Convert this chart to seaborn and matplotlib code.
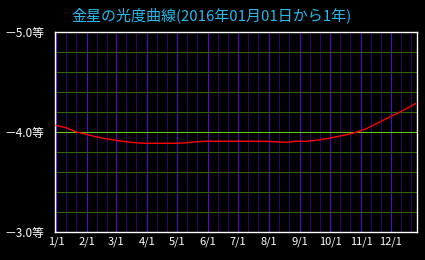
import numpy as np
import pandas as pd
import matplotlib
matplotlib.use("Agg")
import matplotlib.pyplot as plt
import matplotlib.ticker as mticker
import seaborn as sns

# ---- data ----
days = [0, 10, 20, 30, 40, 50, 60, 70, 80, 90, 100, 110, 120, 130, 140, 150,
        160, 170, 180, 190, 200, 210, 220, 230, 240, 250, 260, 270, 280, 290,
        300, 310, 320, 330, 340, 350, 360]
mags = [-4.07, -4.045, -4.005, -3.98, -3.955, -3.935, -3.92, -3.905, -3.895, -3.89,
        -3.89, -3.89, -3.89, -3.895, -3.905, -3.91, -3.91, -3.91, -3.91, -3.91,
        -3.91, -3.91, -3.905, -3.90, -3.91, -3.91, -3.92, -3.935, -3.955, -3.975,
        -4.00, -4.035, -4.085, -4.135, -4.185, -4.235, -4.29]
month_labels = ["1/1", "2/1", "3/1", "4/1", "5/1", "6/1", "7/1", "8/1", "9/1",
                "10/1", "11/1", "12/1"]
ytick_vals = [-5.0, -4.0, -3.0]
ytick_labels = ["－5.0等", "－4.0等", "－3.0等"]
title = "金星の光度曲線(2016年01月01日から1年)"

start = pd.Timestamp("2016-01-01")
month_starts = pd.date_range("2016-01-01", periods=12, freq="MS")
major_x = [(d - start).days for d in month_starts]
minor_x = []
for d in month_starts:
    for dd in (10, 20):
        minor_x.append((d - start).days + dd)

df = pd.DataFrame({"day": days, "mag": mags})

sns.set_style("dark")
plt.rcParams["font.family"] = ["Noto Sans CJK JP", "DejaVu Sans"]

W, H = 425, 260
fig = plt.figure(figsize=(W / 100, H / 100), dpi=100, facecolor="black")
ax = fig.add_axes([55.3 / W, (H - 232.3) / H, 361.4 / W, 200 / H])
ax.set_facecolor("black")

sns.lineplot(data=df, x="day", y="mag", color="#ff0000", lw=1.0, ax=ax, zorder=5)

ax.set_xlim(-0.7, 360.7)
ax.set_ylim(-3.0, -5.0)

ax.xaxis.set_major_locator(mticker.FixedLocator(major_x))
ax.xaxis.set_minor_locator(mticker.FixedLocator(minor_x))
ax.set_xticklabels(month_labels)
ax.yaxis.set_major_locator(mticker.FixedLocator(ytick_vals))
ax.yaxis.set_minor_locator(mticker.MultipleLocator(0.2))
ax.set_yticklabels(ytick_labels)

ax.grid(which="major", axis="x", color="#6000d8", lw=0.75)
ax.grid(which="minor", axis="x", color="#2e0070", lw=0.75)
ax.grid(which="major", axis="y", color="#66cc00", lw=0.75)
ax.grid(which="minor", axis="y", color="#2f6600", lw=0.75)

ax.tick_params(axis="both", which="both", length=0)
ax.tick_params(axis="x", colors="white", labelsize=8, pad=3.2)
ax.tick_params(axis="y", colors="white", labelsize=8.5, pad=36.7)
for lab in ax.get_yticklabels():
    lab.set_horizontalalignment("left")

ax.set_xlabel("")
ax.set_ylabel("")
for s in ax.spines.values():
    s.set_visible(True)
    s.set_color("white")
    s.set_linewidth(1.0)

fig.text(212 / W, 1 - 15 / H, title, color="#22bbee", fontsize=10.8,
         ha="center", va="center")

fig.savefig("out.png", dpi=100, facecolor="black")
